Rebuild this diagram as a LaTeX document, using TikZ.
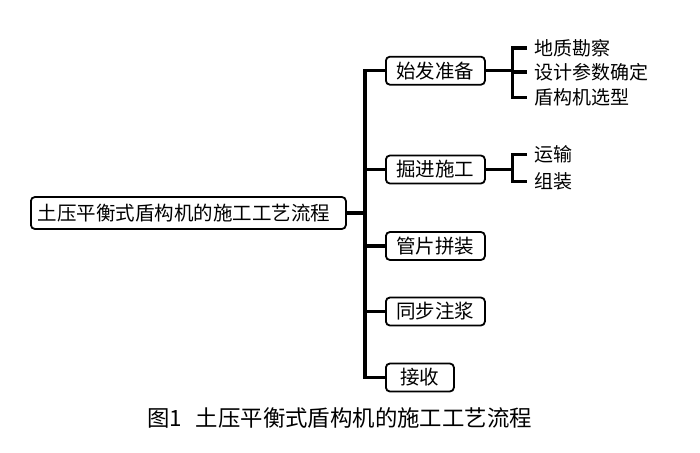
\documentclass[tikz,border=0pt]{standalone}
\usepackage{fontspec}
\setmainfont{Noto Sans CJK SC}
\usepackage{tikz}
\usetikzlibrary{positioning}
\tikzstyle{enlace} = [line width=3.2pt]
\tikzstyle{raiz} = [draw, line width=1.8pt, rectangle, rounded corners=4pt, anchor=west, text width=301pt, align=left, inner xsep=7pt, minimum height=32pt, font=\fontsize{19.5}{21}\selectfont]
\tikzstyle{etapa} = [draw, line width=1.8pt, rectangle, rounded corners=4pt, anchor=west, inner xsep=10.5pt, inner ysep=0pt, minimum height=28pt, font=\fontsize{19.5}{21}\selectfont]
\tikzstyle{detalle} = [anchor=west, inner xsep=7pt, inner ysep=0pt, font=\fontsize{19}{20}\selectfont]
\tikzstyle{pie} = [font=\fontsize{22.4}{24}\selectfont]

\begin{document}
\begin{tikzpicture}[x=1pt, y=-1pt]
		\useasboundingbox (0,0) rectangle (700,452);
		\node[raiz] (proceso) at (30,213) {土压平衡式盾构机的施工工艺流程};
		\coordinate (eje) at (365,213);

		\node[etapa] (inicio) at (385,70.7) {始发准备};
		\node[etapa] (avance) at (385,169.5) {掘进施工};
		\node[etapa] (anillo) at (385,246) {管片拼装};
		\node[etapa] (lechada) at (385,311.5) {同步注浆};
		\node[etapa, minimum width=68pt] (recibo) at (385,377.5) {接收};

		\node[detalle] (geo) at (527,48) {地质勘察};
		\node[detalle] (param) at (527,72) {设计参数确定};
		\node[detalle] (tipo) at (527,97.5) {盾构机选型};
		\node[detalle] (trans) at (527,154.5) {运输};
		\node[detalle] (monta) at (527,181.5) {组装};

		\coordinate[right=27pt of inicio.east] (llave1);
		\coordinate[right=27pt of avance.east] (llave2);

		\draw[enlace] (proceso.east) -- (eje);
		\draw[enlace] (inicio.west) -| (eje) |- (recibo.west);
		\draw[enlace] (avance.west) -- (avance.west -| eje);
		\draw[enlace] (anillo.west) -- (anillo.west -| eje);
		\draw[enlace] (lechada.west) -- (lechada.west -| eje);

		\draw[enlace] (inicio.east) -- (llave1);
		\draw[enlace] (geo.west) -| (llave1) |- (tipo.west);
		\draw[enlace] (llave1 |- param.west) -- (param.west);
		\draw[enlace] (avance.east) -- (llave2);
		\draw[enlace] (trans.west) -| (llave2) |- (monta.west);

		\node[pie] (titulo) at (339.5,418) {图1\hspace{14pt}土压平衡式盾构机的施工工艺流程};
	\end{tikzpicture}
\end{document}
